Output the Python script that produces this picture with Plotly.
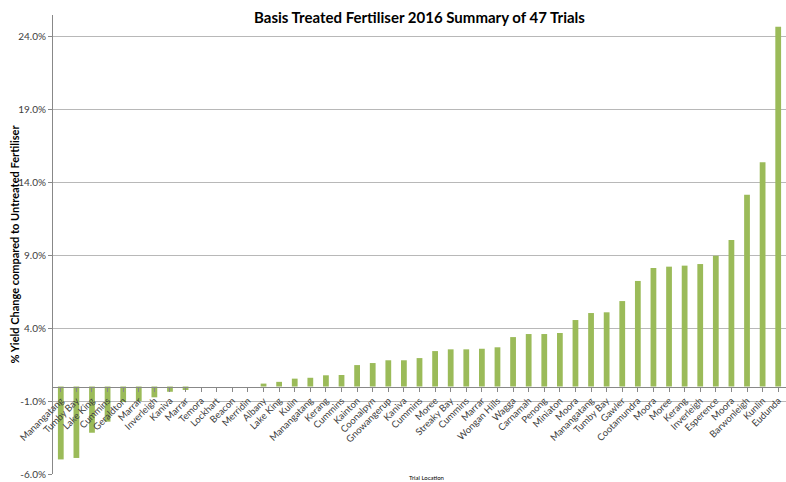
import plotly.graph_objects as go

locations = ["Manangatang", "Tumby Bay", "Lake King", "Cummins", "Geraldton", "Marrar",
             "Inverleigh", "Kaniva", "Marrar", "Temora", "Lockhart", "Beacon", "Merridin",
             "Albany", "Lake King", "Kulin", "Manangatang", "Kerang", "Cummins", "Kainton",
             "Coonalpyn", "Gnowangerup", "Kaniva", "Cummins", "Moree", "Streaky Bay",
             "Cummins", "Marrar", "Wongan Hills", "Wagga", "Carnamah", "Penong", "Miniaton",
             "Moora", "Manangatang", "Tumby Bay", "Gawler", "Cootamundra", "Moora", "Moree",
             "Kerang", "Inverleigh", "Esperence", "Moora", "Barwonleigh", "Kunlin", "Eudunda"]
yield_change = [-5.0, -4.9, -3.17, -2.41, -1.06, -1.0, -0.74, -0.36, -0.24, 0.0, 0.0, 0.0, 0.0,
                0.2, 0.32, 0.54, 0.6, 0.77, 0.79, 1.47, 1.61, 1.8, 1.8, 1.95, 2.43, 2.55,
                2.55, 2.59, 2.69, 3.39, 3.6, 3.6, 3.67, 4.56, 5.04, 5.09, 5.86, 7.24, 8.13,
                8.22, 8.29, 8.4, 8.97, 10.05, 13.16, 15.38, 24.68]
tick_values = [-6, -1, 4, 9, 14, 19, 24]

xs = list(range(len(locations)))
y_min, y_max = -6, 25.48

fig = go.Figure(go.Bar(x=xs, y=yield_change, marker_color="#9BBB59",
                       marker_line_width=0))

font_family = "Lato, 'Open Sans', sans-serif"
fig.update_layout(
    width=786, height=482,
    margin=dict(l=53, r=0, t=15, b=8),
    paper_bgcolor="white", plot_bgcolor="white",
    bargap=0.63,
    showlegend=False,
    font=dict(family=font_family, color="#404040", size=10),
    title=dict(text="<b>Basis Treated Fertiliser 2016 Summary of 47 Trials</b>",
               x=0.5, xref="paper", xanchor="center", y=1 - 18 / 482, yanchor="middle",
               font=dict(size=15, color="#000000", family=font_family)),
)
fig.update_xaxes(
    tickmode="array", tickvals=xs, ticktext=locations, tickangle=-45,
    range=[-0.5, len(locations) - 0.5],
    anchor="free", position=(0 - y_min) / (y_max - y_min),
    showline=True, linecolor="#888888", linewidth=1,
    ticks="outside", tickson="boundaries", ticklen=4, tickcolor="#888888",
    showgrid=False, zeroline=False, automargin=False,
    tickfont=dict(size=9.5, color="#404040"),
)
fig.update_yaxes(
    range=[y_min, y_max], tickmode="array", tickvals=tick_values,
    ticktext=[f"{v:.1f}%" for v in tick_values],
    showline=True, linecolor="#888888", linewidth=1,
    ticks="outside", ticklen=4, tickcolor="#888888",
    showgrid=True, gridcolor="#B8B8B8", gridwidth=1, zeroline=False, automargin=False,
    tickfont=dict(size=10, color="#404040"),
)
fig.add_annotation(text="<b>% Yield Change compared to Untreated Fertiliser</b>",
                   xref="paper", yref="paper", x=(14 - 53) / 733, y=0.5, textangle=-90,
                   showarrow=False, xanchor="center", yanchor="middle",
                   font=dict(size=11, color="#000000"))
fig.add_annotation(text="Trial Location", xref="paper", yref="paper", x=0.51, y=-4 / 459,
                   showarrow=False, font=dict(size=6, color="#000000"), yanchor="middle")

fig.write_html("out.html", config={"displayModeBar": False},
               post_script="document.body.style.margin='0';document.body.style.overflow='hidden';")
